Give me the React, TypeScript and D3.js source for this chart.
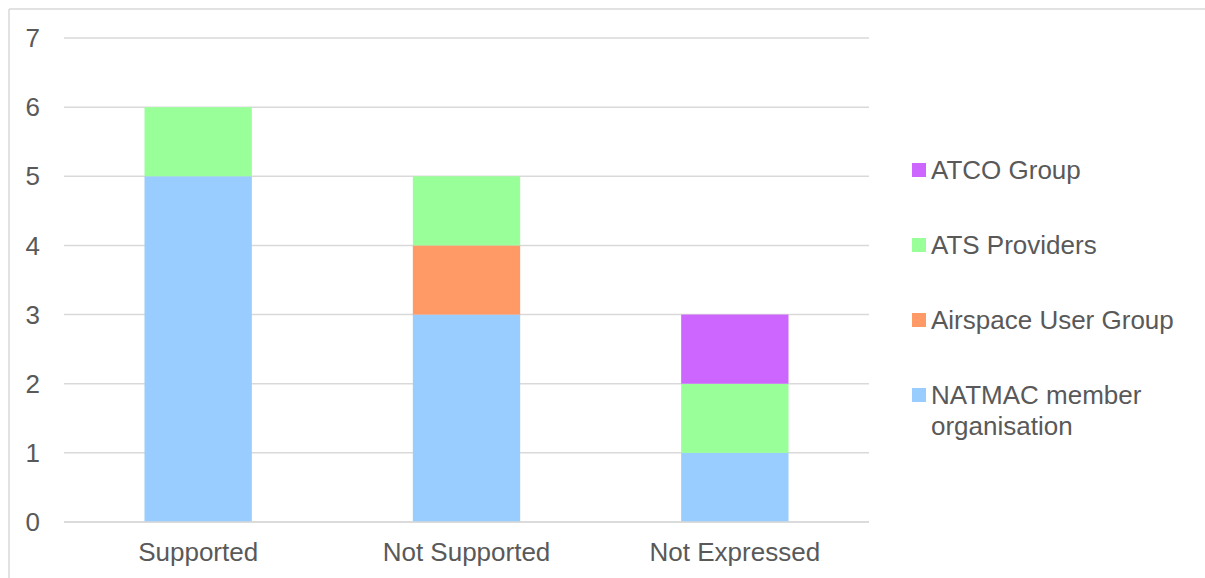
import React from "react";
import * as d3 from "d3";

const categories = ["Supported", "Not Supported", "Not Expressed"];
const seriesNames = ["NATMAC member organisation", "Airspace User Group", "ATS Providers", "ATCO Group"];
const natmac = [5, 3, 1];
const airspaceUser = [0, 1, 0];
const atsProviders = [1, 1, 1];
const atcoGroup = [0, 0, 1];
const yTicks = [0, 1, 2, 3, 4, 5, 6, 7];
const colors = ["#99CCFF", "#FF9966", "#99FF99", "#CC66FF"];
const legendOrder = [3, 2, 1, 0];
const legendLines = [["ATCO Group"], ["ATS Providers"], ["Airspace User Group"], ["NATMAC member", "organisation"]];

export default function App() {
  const W = 1205, H = 578;
  const left = 64, right = 869, top = 38, bottom = 522;
  const x = d3.scaleBand().domain(categories).range([left, right]).paddingInner(0.6).paddingOuter(0.3);
  const y = d3.scaleLinear().domain([0, 7]).range([bottom, top]);
  const values = [natmac, airspaceUser, atsProviders, atcoGroup];
  const rows = categories.map((c, i) => {
    const r: any = { cat: c };
    seriesNames.forEach((s, j) => (r[s] = values[j][i]));
    return r;
  });
  const stacked = d3.stack().keys(seriesNames)(rows);
  const font = "'Liberation Sans', Arial, sans-serif";
  const textColor = "#595959";
  const fs = 26;
  return (
    <svg
      width={W}
      height={H}
      style={{ display: "block", position: "fixed", left: 0, top: 0 }}
      fontFamily={font}
    >
      <rect x={0} y={0} width={W} height={H} fill="#fff" />
      <line x1={9} x2={W} y1={9} y2={9} stroke="#d9d9d9" strokeWidth={1.5} />
      <line x1={9} x2={9} y1={9} y2={H} stroke="#d9d9d9" strokeWidth={1.5} />
      {yTicks.map((t) => (
        <g key={t}>
          <line x1={left} x2={right} y1={y(t)} y2={y(t)} stroke="#d9d9d9" strokeWidth={1.5} />
          <text x={40} y={y(t)} dy="0.35em" textAnchor="end" fontSize={fs} fill={textColor}>
            {t}
          </text>
        </g>
      ))}
      {stacked.map((layer, j) => (
        <g key={layer.key} fill={colors[j]}>
          {layer.map((d, i) =>
            d[1] - d[0] > 0 ? (
              <rect key={i} x={x(categories[i])} width={x.bandwidth()} y={y(d[1])} height={y(d[0]) - y(d[1])} />
            ) : null
          )}
        </g>
      ))}
      <line x1={left} x2={right} y1={y(0)} y2={y(0)} stroke="#d9d9d9" strokeWidth={1.5} />
      {categories.map((c) => (
        <text key={c} x={(x(c) as number) + x.bandwidth() / 2} y={561} textAnchor="middle" fontSize={fs} fill={textColor}>
          {c}
        </text>
      ))}
      {legendOrder.map((si, k) => {
        const cy = 170 + k * 75;
        return (
          <g key={si}>
            <rect x={912} y={cy - 7} width={14} height={14} fill={colors[si]} />
            {legendLines[k].map((ln, li) => (
              <text key={li} x={931} y={cy + li * 31} dy="0.35em" fontSize={fs} fill={textColor}>
                {ln}
              </text>
            ))}
          </g>
        );
      })}
    </svg>
  );
}
